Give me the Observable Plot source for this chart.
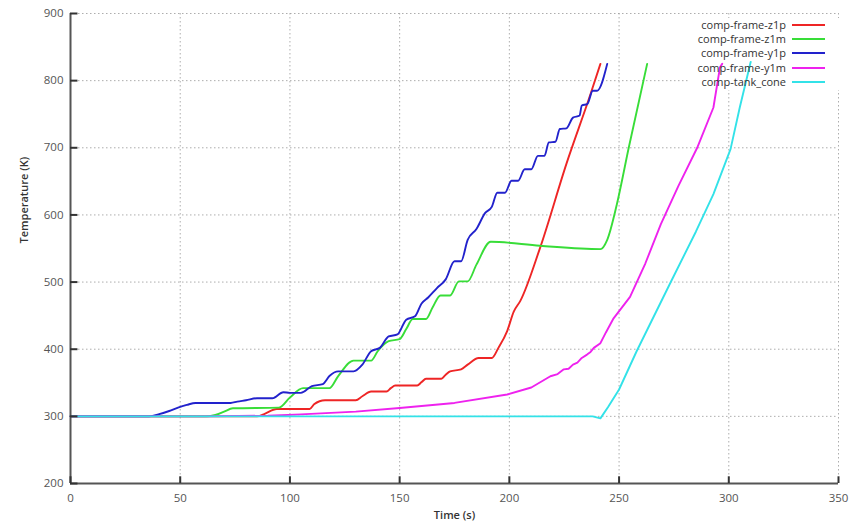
<!DOCTYPE html>
<html><head><meta charset="utf-8">
<script src="https://cdn.jsdelivr.net/npm/d3@7"></script>
<script src="https://cdn.jsdelivr.net/npm/@observablehq/plot@0.6"></script>
<style>
body{margin:0;background:#fff;}
#wrap{position:relative;width:850px;height:524px;overflow:hidden;}
#legend{position:absolute;left:0;top:0;width:850px;height:100px;font-family:"Open Sans",sans-serif;font-size:11px;color:#333;pointer-events:none;}
.lt{position:absolute;right:64px;line-height:14px;white-space:nowrap;}
.ls{position:absolute;left:792px;width:33px;height:2px;}
</style></head><body><div id="wrap"><div id="legend"></div></div>
<script>
// ---- data ----
const seriesNames = ["comp-frame-z1p","comp-frame-z1m","comp-frame-y1p","comp-frame-y1m","comp-tank_cone"];
const seriesColors = ["#ee2525","#38dd38","#2222cc","#ee22ee","#33e2e8"];
const xTicks = [0,50,100,150,200,250,300,350];
const yTicks = [200,300,400,500,600,700,800,900];

const z1p_t = [0,85,88,94,109,111,116,130,133,137,144,146,148,158,160,162,169,171,173,178,181,186,192,195,199,202,205,214,226,237,241.5];
const z1p_T = [300,300,303,311,311,318,324,324,330,337,337,342,346,346,351,356,356,362,367,370,377,387,387,402,427,456,472,551,676,780,825];

const z1m_t = [0,62,66,70,74,95,100,106,118,122,129,137,140,145,150,153,156,162,165,168.6,173,177,181,185,191.5,214,241.5,244.6,249,254.4,262.8];
const z1m_T = [300,300,302,307,312,313,328,342,342,360,383,383,397,412,415,430,445,445,462,480,480,501,501,526,560,554,549,563,616,700,825];

const y1p_t = [0,35,40,45,49,53,57,73,76,80,85,92,97,100,105,110,115,118,122,129,133,137,141,145,149,153,157,160,163,167,171,175,178,181,185,189,192,194.5,198,201,204,207,210,213,216,218,221,223,226,229,232,233,235.5,238,240,244.6];
const y1p_T = [300,300,303,308,313,317,320,320,322,324,327,327,336,335,335,345,348,360,367,367,377,397,402,419,422,444,449,468,477,491,504,531,531,563,579,603,612,633,633,651,651,668,668,688,688,708,709,728,729,745,748,763,765,785,785,825];

const y1m_t = [0,60,90,105,130,150,175,199,210,218.7,222,224.8,227,229,231,233,235.4,237,238.5,241.5,244,247.5,255,262,269,277,285.6,293,296,297];
const y1m_T = [300,300,301,303,307,312.5,320,332.5,343,359.7,363,370,371,377,380,387,392,396,402,409,425,446,478,528,586,643,700,760,820,825];

const cone_t = [0,238,241.5,245,250,258,273.4,285,293,300.8,305,310];
const cone_T = [300,300,297,314,340,397,499,575,631,698,760,828];

// ---- table ----
const allT = [z1p_t,z1m_t,y1p_t,y1m_t,cone_t];
const allV = [z1p_T,z1m_T,y1p_T,y1m_T,cone_T];
const rows = [];
seriesNames.forEach((s,i)=>allT[i].forEach((t,j)=>rows.push({series:s,t,T:allV[i][j]})));
const stairRows = rows.filter(r => seriesNames.indexOf(r.series) < 3);
const smoothRows = rows.filter(r => seriesNames.indexOf(r.series) >= 3);

// inward tick length, expressed in data units (≈6–7 px)
const xTickLen = 10;   // K
const yTickLen = 3.4;  // s

const font = '"Open Sans", sans-serif';
const chart = Plot.plot({
  width: 850, height: 524,
  marginLeft: 70, marginRight: 12, marginTop: 13, marginBottom: 41,
  style: {fontFamily: font, fontSize: "11.5px", background: "#fff", color: "#555"},
  x: {domain: [0,350]},
  y: {domain: [200,900]},
  color: {domain: seriesNames, range: seriesColors},
  marks: [
    Plot.gridX(xTicks.filter(d=>d>0), {stroke:"#999", strokeOpacity:0.8, strokeDasharray:"1.5,2.5", strokeWidth:1}),
    Plot.gridY(yTicks.filter(d=>d>200), {stroke:"#999", strokeOpacity:0.8, strokeDasharray:"1.5,2.5", strokeWidth:1}),
    Plot.axisX(xTicks, {tickSize: 0, tickPadding: 10, label: null, fill:"#555"}),
    Plot.axisY(yTicks, {tickSize: 0, tickPadding: 7, label: null, fill:"#555"}),
    Plot.line(stairRows, {x:"t", y:"T", z:"series", stroke:"series", strokeWidth:1.9, curve:"monotone-x"}),
    Plot.line(smoothRows, {x:"t", y:"T", z:"series", stroke:"series", strokeWidth:1.9, curve:"linear"}),
    Plot.ruleX([0], {stroke:"#555", strokeWidth:2}),
    Plot.ruleY([200], {stroke:"#555", strokeWidth:2}),
    Plot.ruleX(xTicks, {x: d=>d, y1: () => 200, y2: () => 200 + xTickLen, stroke:"#333", strokeWidth:2, strokeDasharray: null}),
    Plot.ruleY(yTicks, {y: d=>d, x1: () => 0, x2: () => yTickLen, stroke:"#333", strokeWidth:2}),
    Plot.text(["Temperature (K)"], {frameAnchor:"left", rotate:-90, dx:-46, dy:-5, text:d=>d, fontSize:11, fontWeight:600, fill:"#333"}),
    Plot.text(["Time (s)"], {frameAnchor:"bottom", dy:35, text:d=>d, fontSize:11, fontWeight:600, fill:"#333"})
  ]
});
const wrap = document.getElementById("wrap");
wrap.insertBefore(chart, wrap.firstChild);

// white key box covering the grid (drawn beneath curves)
const lineG = chart.querySelector('g[aria-label="line"]');
if (lineG) {
  const r = document.createElementNS("http://www.w3.org/2000/svg","rect");
  r.setAttribute("x", 688); r.setAttribute("y", 18);
  r.setAttribute("width", 152); r.setAttribute("height", 72);
  r.setAttribute("fill", "#fff");
  lineG.parentNode.insertBefore(r, lineG);
}

// legend
const legend = document.getElementById("legend");
const rowY = [25,39,53,68,82];
seriesNames.forEach((s,i)=>{
  const t = document.createElement("div");
  t.className = "lt"; t.textContent = s; t.style.top = (rowY[i]-7)+"px";
  legend.appendChild(t);
  const l = document.createElement("div");
  l.className = "ls"; l.style.background = seriesColors[i]; l.style.top = (rowY[i]-1)+"px";
  legend.appendChild(l);
});
</script></body></html>
